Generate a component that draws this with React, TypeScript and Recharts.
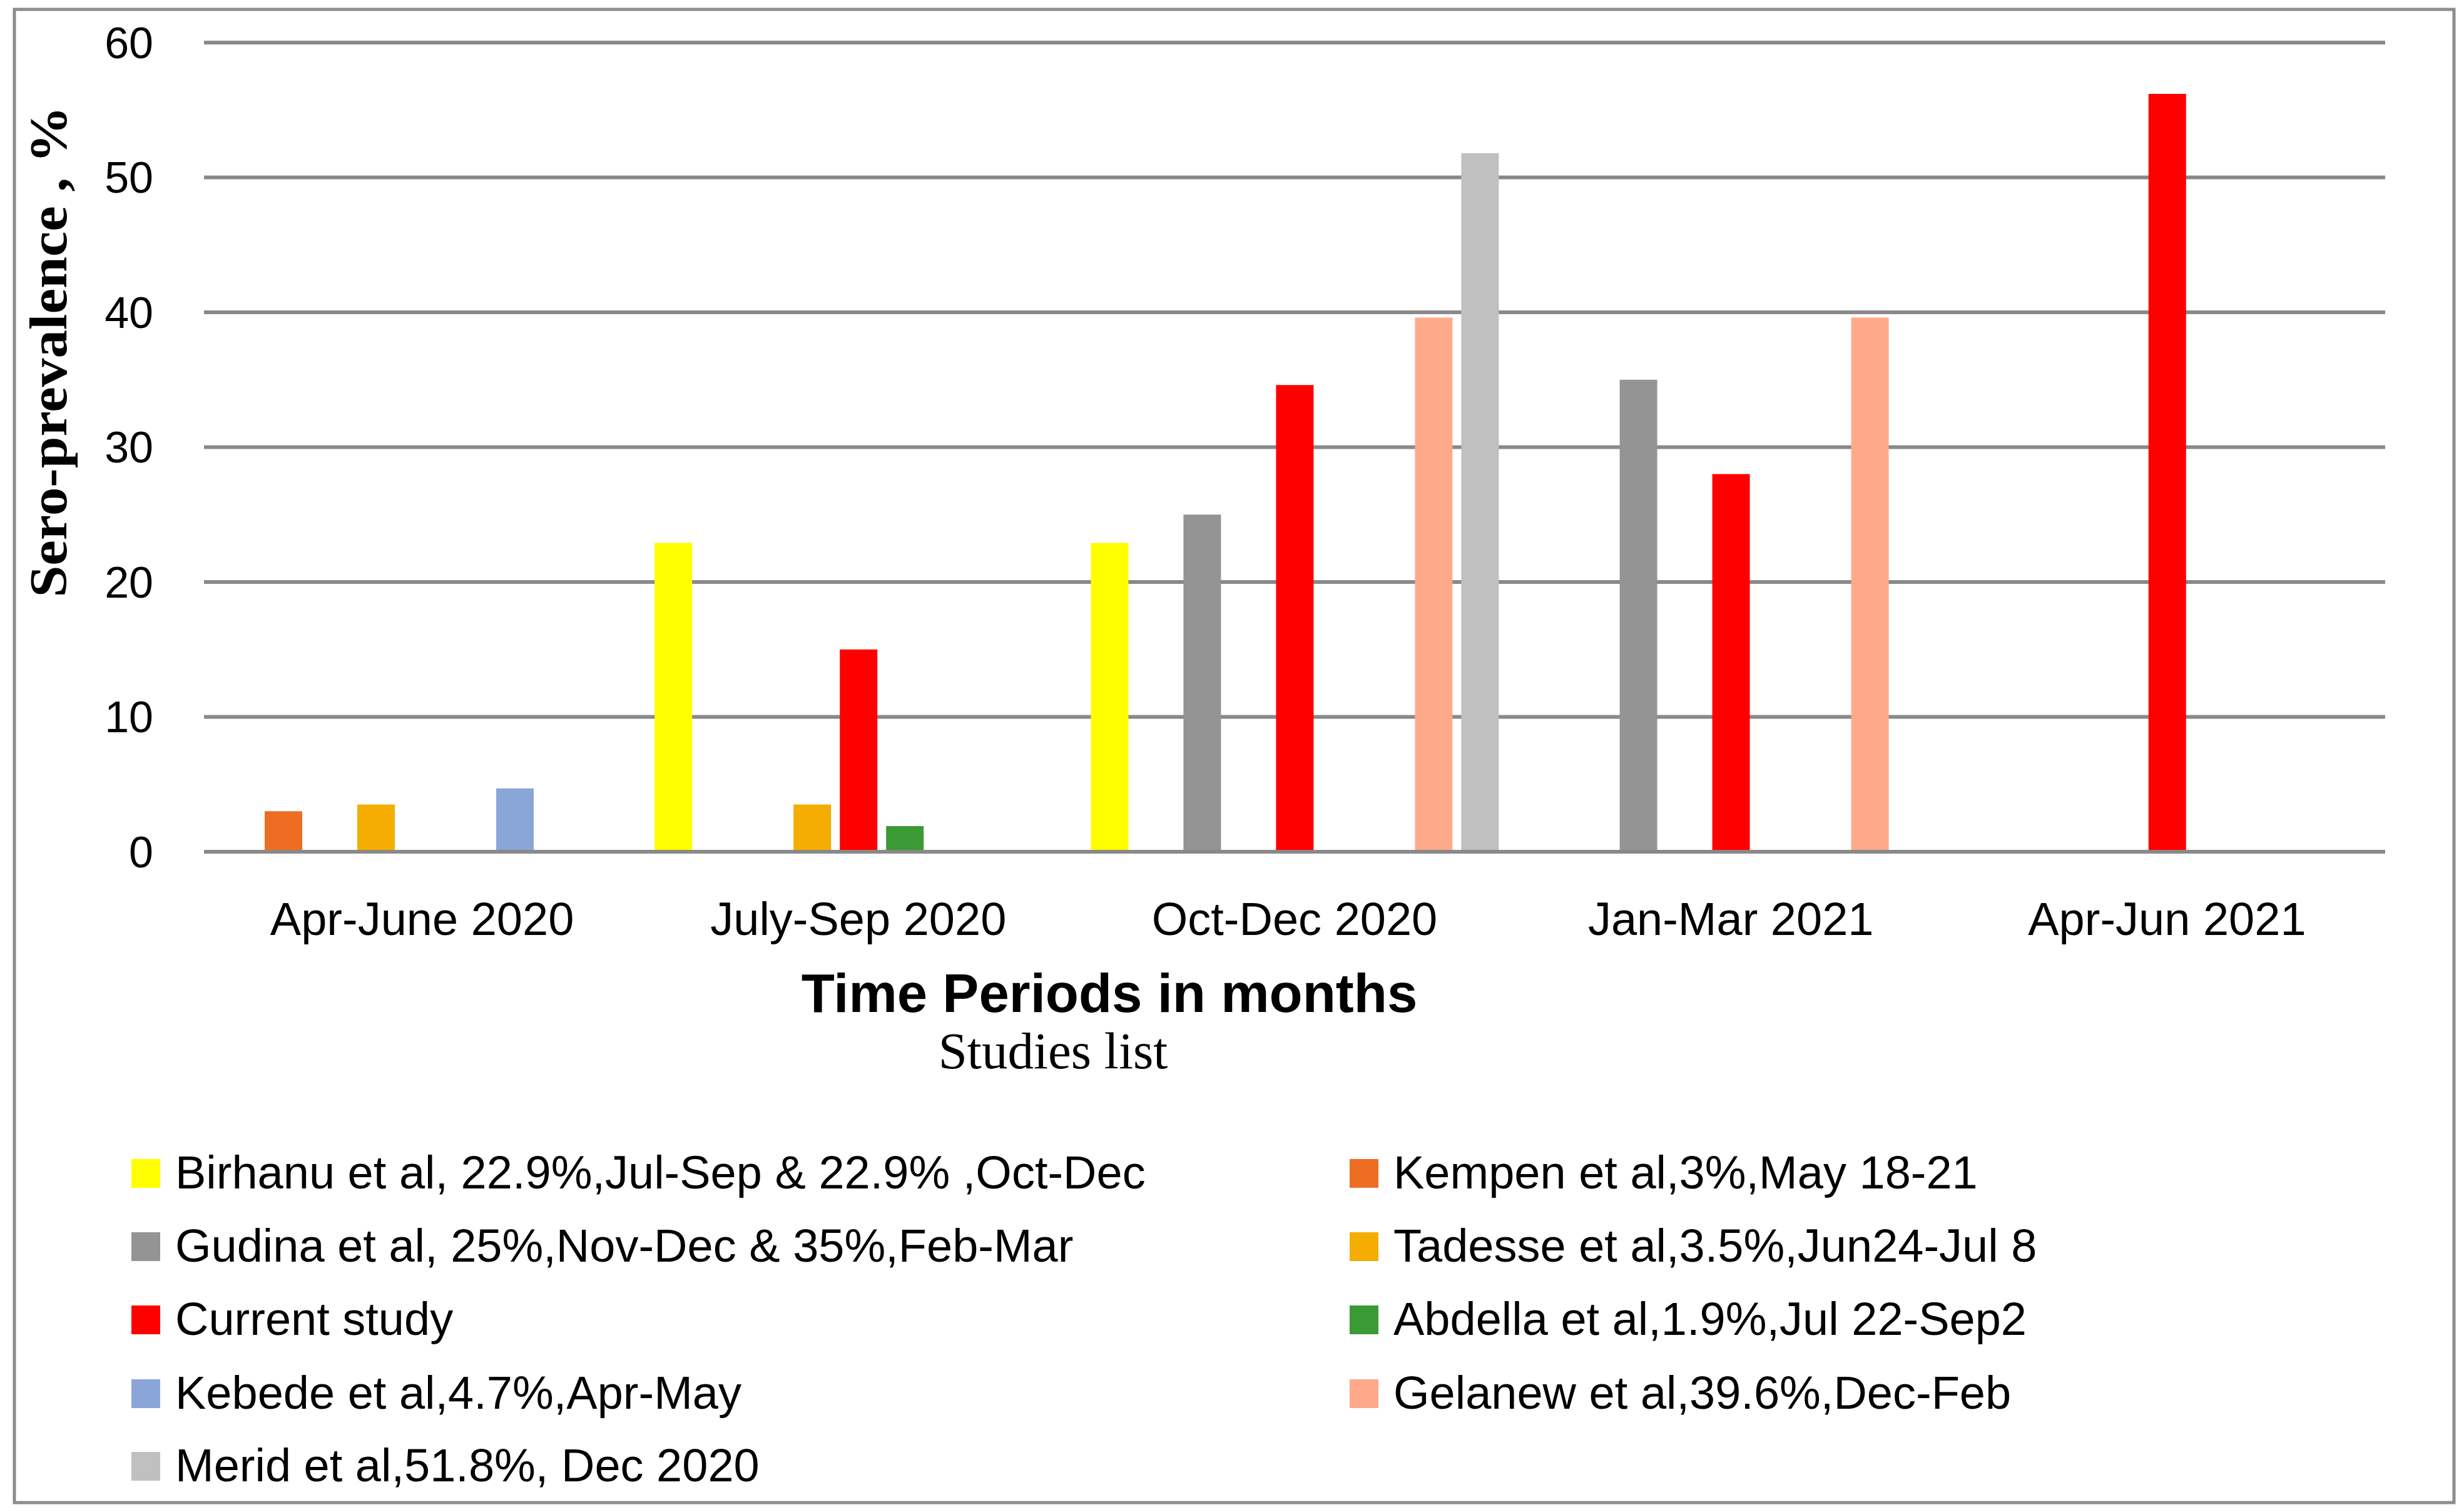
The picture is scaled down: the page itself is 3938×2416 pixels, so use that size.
import { BarChart, Bar, XAxis, YAxis, CartesianGrid, Legend, Customized } from "recharts";

// Zeitraeume (Kategorien der X-Achse)
const categories = ["Apr-June 2020", "July-Sep 2020", "Oct-Dec 2020", "Jan-Mar 2021", "Apr-Jun 2021"];

// Werte je Studie, in Prozent, null = keine Daten in diesem Zeitraum
const birhanu = [null, 22.9, 22.9, null, null];
const kempen = [3, null, null, null, null];
const gudina = [null, null, 25, 35, null];
const tadesse = [3.5, 3.5, null, null, null];
const current = [null, 15, 34.6, 28, 56.2];
const abdella = [null, 1.9, null, null, null];
const kebede = [4.7, null, null, null, null];
const gelanew = [null, null, 39.6, 39.6, null];
const merid = [null, null, 51.8, null, null];

const yTicks = [0, 10, 20, 30, 40, 50, 60];

const SERIES = [
  { key: "birhanu", name: "Birhanu et al, 22.9%,Jul-Sep & 22.9% ,Oct-Dec", color: "#FFFF00", values: birhanu },
  { key: "kempen", name: "Kempen et al,3%,May 18-21", color: "#ED6E22", values: kempen },
  { key: "gudina", name: "Gudina et al, 25%,Nov-Dec & 35%,Feb-Mar", color: "#949494", values: gudina },
  { key: "tadesse", name: "Tadesse et al,3.5%,Jun24-Jul 8", color: "#F4AD00", values: tadesse },
  { key: "current", name: "Current study", color: "#FF0000", values: current },
  { key: "abdella", name: "Abdella et al,1.9%,Jul 22-Sep2", color: "#3A9A34", values: abdella },
  { key: "kebede", name: "Kebede et al,4.7%,Apr-May", color: "#8AA5D8", values: kebede },
  { key: "gelanew", name: "Gelanew et al,39.6%,Dec-Feb", color: "#FFA98B", values: gelanew },
  { key: "merid", name: "Merid et al,51.8%, Dec 2020", color: "#C0C0C0", values: merid },
];

const data = categories.map((period, i) => {
  const row: Record<string, any> = { period };
  SERIES.forEach((s) => {
    row[s.key] = s.values[i];
  });
  return row;
});

const SANS = '"Liberation Sans", Arial, sans-serif';
const SERIF = '"Liberation Serif", "Times New Roman", serif';
const GRID = "#898989";

const W = 3938;
const H = 2416;
const LEGEND_TOP = 1800;

const seriesOrder = (name: string) => SERIES.findIndex((s) => s.name === name);

// Legende in zwei Spalten, zeilenweise gefuellt (Reihenfolge wie die Balken)
function StudyLegend(props: any) {
  const payload = [...(props.payload || [])].sort((a: any, b: any) => seriesOrder(a.value) - seriesOrder(b.value));
  const colX = [210, 2157];
  const rowY = [1875, 1992, 2109, 2227, 2343];
  return (
    <svg width={W} height={H - LEGEND_TOP} style={{ display: "block" }}>
      {payload.map((entry: any, i: number) => {
        const cx = colX[i % 2];
        const cy = rowY[Math.floor(i / 2)] - LEGEND_TOP;
        return (
          <g key={entry.value}>
            <rect x={cx} y={cy - 23} width={46} height={46} fill={entry.color} />
            <text x={cx + 70} y={cy + 24} fontFamily={SANS} fontSize={74} fill="#000">
              {entry.value}
            </text>
          </g>
        );
      })}
    </svg>
  );
}

function Decorations() {
  return (
    <g>
      <rect x={23} y={15} width={3899} height={2386} fill="none" stroke="#8c8c8c" strokeWidth={5} />
      <text
        x={77}
        y={562}
        transform="rotate(-90, 77, 562)"
        textAnchor="middle"
        dominantBaseline="central"
        fontFamily={SERIF}
        fontWeight="bold"
        fontSize={84}
        textLength={785}
        lengthAdjust="spacingAndGlyphs"
        fill="#000"
      >
        Sero-prevalence , %
      </text>
      <text x={1773} y={1617} textAnchor="middle" fontFamily={SANS} fontWeight="bold" fontSize={87} fill="#000">
        Time Periods in months
      </text>
      <text x={1683} y={1707} textAnchor="middle" fontFamily={SERIF} fontSize={83} fill="#000">
        Studies list
      </text>
    </g>
  );
}

export default function App() {
  return (
    <div style={{ position: "absolute", left: 0, top: 0, width: W, height: H, background: "#fff" }}>
      <BarChart
        width={W}
        height={H}
        data={data}
        margin={{ top: 68, right: 126, left: 20, bottom: 905 }}
        barGap={14}
      >
        <CartesianGrid vertical={false} stroke={GRID} strokeWidth={6} />
        <XAxis
          dataKey="period"
          height={150}
          axisLine={{ stroke: GRID, strokeWidth: 6 }}
          tickLine={false}
          tickSize={0}
          tickMargin={80}
          interval={0}
          tick={{ fontSize: 74, fill: "#000", fontFamily: SANS }}
        />
        <YAxis
          width={306}
          domain={[0, 60]}
          ticks={yTicks}
          axisLine={false}
          tickLine={false}
          tickSize={0}
          tickMargin={81}
          tick={{ fontSize: 70, fill: "#000", fontFamily: SANS }}
        />
        {SERIES.map((s) => (
          <Bar key={s.key} dataKey={s.key} name={s.name} fill={s.color} barSize={60} isAnimationActive={false} />
        ))}
        <Legend
          layout="vertical"
          align="center"
          verticalAlign="middle"
          wrapperStyle={{ left: 0, top: LEGEND_TOP, width: W, height: H - LEGEND_TOP }}
          content={<StudyLegend />}
        />
        <Customized component={<Decorations />} />
      </BarChart>
    </div>
  );
}
